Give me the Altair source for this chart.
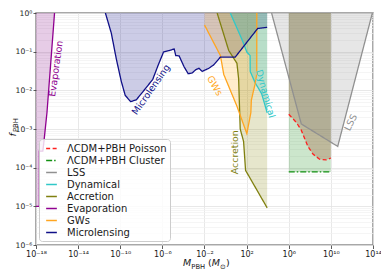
import altair as alt
import pandas as pd

# ---------------- data (log10 values) ----------------
micro_logM = [-11.41, -10.85, -10.38, -9.91, -9.53, -9.02, -8.49, -7.86, -6.92, -6.4, -5.89, -5.35,
              -4.88, -4.73, -4.41, -3.94, -3.55, -3.16, -2.85, -2.53, -2.22, -1.91, -1.59, -1.12,
              -0.49, 0.92, 3.05, 3.95]
micro_logf = [0.0, -0.52, -1.18, -1.76, -2.13, -2.29, -2.25, -2.04, -1.72, -1.35, -1.01, -0.97,
              -0.93, -1.10, -1.11, -1.39, -1.57, -1.55, -1.47, -1.43, -1.51, -1.47, -1.43, -1.34,
              -1.14, -1.14, -0.40, -0.37]

gws_logM = [-2.0, -0.49, -0.17, 1.08, 2.02, 2.40, 2.45, 2.80, 2.96, 2.97]
gws_logf = [-0.31, -1.10, -1.59, -2.41, -3.12, -2.58, -2.25, -1.84, -1.59, 0.0]

acc_logM = [-0.80, 0.30, 1.08, 1.24, 1.39, 1.71, 1.90, 3.95]
acc_logf = [0.0, -0.97, -1.30, -1.70, -3.00, -3.32, -4.07, -5.04]

dyn_logM = [0.45, 1.55, 2.02, 2.33, 2.34, 2.80, 3.43, 3.95]
dyn_logf = [0.0, -0.68, -1.01, -1.10, -1.51, -1.80, -2.09, -2.58]

evap_logM = [-16.24, -16.96, -17.28, -17.35, -17.68, -17.68, -18.0]
evap_logf = [0.0, -2.58, -3.41, -3.57, -3.57, -5.0, -5.0]

lss_logM = [4.37, 7.19, 10.65, 13.94]
lss_logf = [0.0, -2.87, -3.45, 0.0]

pois_logM = [6.0, 6.72, 7.19, 7.50, 7.82, 8.30, 8.92, 9.55, 10.0]
pois_logf = [-2.62, -2.83, -3.03, -3.24, -3.45, -3.65, -3.78, -3.80, -3.75]

clus_logM = [6.0, 10.0]
clus_logf = [-4.11, -4.11]

series_names = ["ΛCDM+PBH Poisson", "ΛCDM+PBH Cluster", "LSS", "Dynamical",
                "Accretion", "Evaporation", "GWs", "Microlensing"]
series_colors = ["#ff2020", "#109010", "#909090", "#30c8c8",
                 "#808010", "#900090", "#ffa520", "#101088"]
series_dash = [[4, 2.5], [6, 2, 1.5, 2], [1, 0], [1, 0], [1, 0], [1, 0], [1, 0], [1, 0]]

label_text = ["Evaporation", "Microlensing", "GWs", "Dynamical", "Accretion", "LSS"]
label_logM = [-16.1, -7.08, -1.04, 3.78, 0.88, 11.9]
label_logf = [-1.44, -1.98, -1.88, -2.09, -3.60, -2.83]
label_angle = [278, 305, 60, 74, 270, 296]
label_color = ["#900090", "#101088", "#ffa520", "#30c8c8", "#808010", "#909090"]

x_exps = [-18, -14, -10, -6, -2, 2, 6, 10, 14]
y_exps = [-6, -5, -4, -3, -2, -1, 0]

# ---------------- helpers ----------------
SUP = str.maketrans("-0123456789", "⁻⁰¹²³⁴⁵⁶⁷⁸⁹")


def lab(e):
    return "10" + str(e).translate(SUP)


def label_expr(exps):
    s = ""
    for e in exps:
        s += f"round(log(datum.value)/LN10)=={e} ? '{lab(e)}' : "
    return s + "''"


def frame(logM, logf):
    return pd.DataFrame({"M": [10.0 ** v for v in logM],
                         "f": [10.0 ** v for v in logf],
                         "top": [1.0] * len(logM)})


FONT = "DejaVu Sans"
W, H = 337, 232
xs = alt.Scale(type="log", domain=[1e-18, 1e14], nice=False)
ys = alt.Scale(type="log", domain=[1e-6, 1], nice=False)

xaxis = alt.Axis(values=[10.0 ** e for e in x_exps], labelExpr=label_expr(x_exps), title=None,
                 grid=True, gridColor="#e2e2e2", gridWidth=0.8, domain=False,
                 tickSize=3.5, tickColor="#333333", tickWidth=0.8,
                 labelFont=FONT, labelFontSize=8, labelColor="#1a1a1a", labelPadding=1.5,
                 labelFlush=False, labelOverlap=False)
yaxis = alt.Axis(values=[10.0 ** e for e in y_exps], labelExpr=label_expr(y_exps), title=None,
                 grid=True, gridColor="#e2e2e2", gridWidth=0.8, domain=False, orient="left",
                 tickSize=3, tickColor="#333333", tickWidth=0.8,
                 labelFont=FONT, labelFontSize=7.6, labelColor="#1a1a1a", labelPadding=1.2,
                 labelOverlap=False)
minor_vals = [k * 10.0 ** e for e in range(-6, 0) for k in range(2, 10)]
yaxis_minor = alt.Axis(values=minor_vals, labels=False, ticks=False, domain=False, title=None,
                       grid=True, gridColor="#f0f0f0", gridWidth=0.7, orient="right")

X = alt.X("M:Q", scale=xs, axis=xaxis)


def area(logM, logf, color, op, axis):
    return alt.Chart(frame(logM, logf)).mark_area(color=color, opacity=op, clip=True).encode(
        x=X, y=alt.Y("f:Q", scale=ys, axis=axis), y2="top:Q")


layers = [
    area(micro_logM, micro_logf, "#000080", 0.2, yaxis),
    area(gws_logM, gws_logf, "#ffa500", 0.2, yaxis_minor),
    area(acc_logM, acc_logf, "#808000", 0.2, None),
    area(dyn_logM, dyn_logf, "#00c0c0", 0.2, None),
    area(evap_logM[::-1], evap_logf[::-1], "#800080", 0.2, None),
    area(clus_logM, clus_logf, "#008000", 0.2, None),
    area(pois_logM, pois_logf, "#a0522d", 0.3, None),
    area(lss_logM, lss_logf, "#808080", 0.2, None),
]

# lines
rows = []
for name, lm, lf in [
    ("ΛCDM+PBH Poisson", pois_logM, pois_logf),
    ("ΛCDM+PBH Cluster", clus_logM, clus_logf),
    ("LSS", lss_logM, lss_logf),
    ("Dynamical", dyn_logM, dyn_logf),
    ("Accretion", acc_logM, acc_logf),
    ("Evaporation", evap_logM, evap_logf),
    ("GWs", gws_logM, gws_logf),
    ("Microlensing", micro_logM, micro_logf),
]:
    for i, (a, b) in enumerate(zip(lm, lf)):
        rows.append({"series": name, "M": 10.0 ** a, "f": 10.0 ** b, "idx": i})
lines_df = pd.DataFrame(rows)

leg = alt.Legend(title=None, orient="none", legendX=3, legendY=126, symbolType="stroke",
                 symbolSize=115, symbolStrokeWidth=1.5, symbolOffset=3,
                 labelFont=FONT, labelFontSize=10, labelColor="#1a1a1a",
                 padding=3, rowPadding=0, labelOffset=9,
                 fillColor="rgba(255,255,255,0.8)", strokeColor="#cccccc", cornerRadius=3)

lines = alt.Chart(lines_df).mark_line(strokeWidth=1.3, clip=True).encode(
    x=X,
    y=alt.Y("f:Q", scale=ys, axis=None),
    color=alt.Color("series:N", scale=alt.Scale(domain=series_names, range=series_colors), legend=leg),
    strokeDash=alt.StrokeDash("series:N", scale=alt.Scale(domain=series_names, range=series_dash), legend=leg),
    order="idx:Q",
)
layers.append(lines)

# region labels
for t, lm, lf, ang, col in zip(label_text, label_logM, label_logf, label_angle, label_color):
    d = pd.DataFrame({"M": [10.0 ** lm], "f": [10.0 ** lf], "t": [t]})
    layers.append(alt.Chart(d).mark_text(font=FONT, fontSize=9.4, angle=ang, color=col,
                                         align="center", baseline="middle").encode(
        x=X, y=alt.Y("f:Q", scale=ys, axis=None), text="t:N"))

# axis titles built from pieces (subscripts)
one = pd.DataFrame({"a": [0]})


def piece(txt, x, y, size, italic=False, angle=0):
    kw = dict(text=txt, font=FONT, fontSize=size, align="left", baseline="alphabetic",
              color="#1a1a1a")
    if italic:
        kw["fontStyle"] = "italic"
    if angle:
        kw["angle"] = angle
    return alt.Chart(one).mark_text(**kw).encode(x=alt.value(x), y=alt.value(y))


TY = H + 21
layers += [
    piece("M", 147.1, TY, 9.5, True),
    piece("PBH", 155.3, TY + 2.5, 6.8),
    piece("(", 172.0, TY, 9.5),
    piece("M", 175.7, TY, 9.5, True),
    piece("⊙", 184.0, TY + 2.5, 6.8),
    piece(")", 190.0, TY, 9.5),
    piece("f", -20.3, 123.4, 9.5, True, 270),
    piece("PBH", -18.0, 119.1, 6.8, False, 270),
]

chart = alt.layer(*layers).resolve_axis(y="independent").properties(
    width=W, height=H,
    padding={"left": 28, "top": 5, "right": 8, "bottom": 25},
    autosize=alt.AutoSizeParams(type="none"),
    background="white",
).configure_view(stroke="#8c8c8c", strokeWidth=1.5)

chart.save("out.html", embed_options={"renderer": "svg", "actions": False})
